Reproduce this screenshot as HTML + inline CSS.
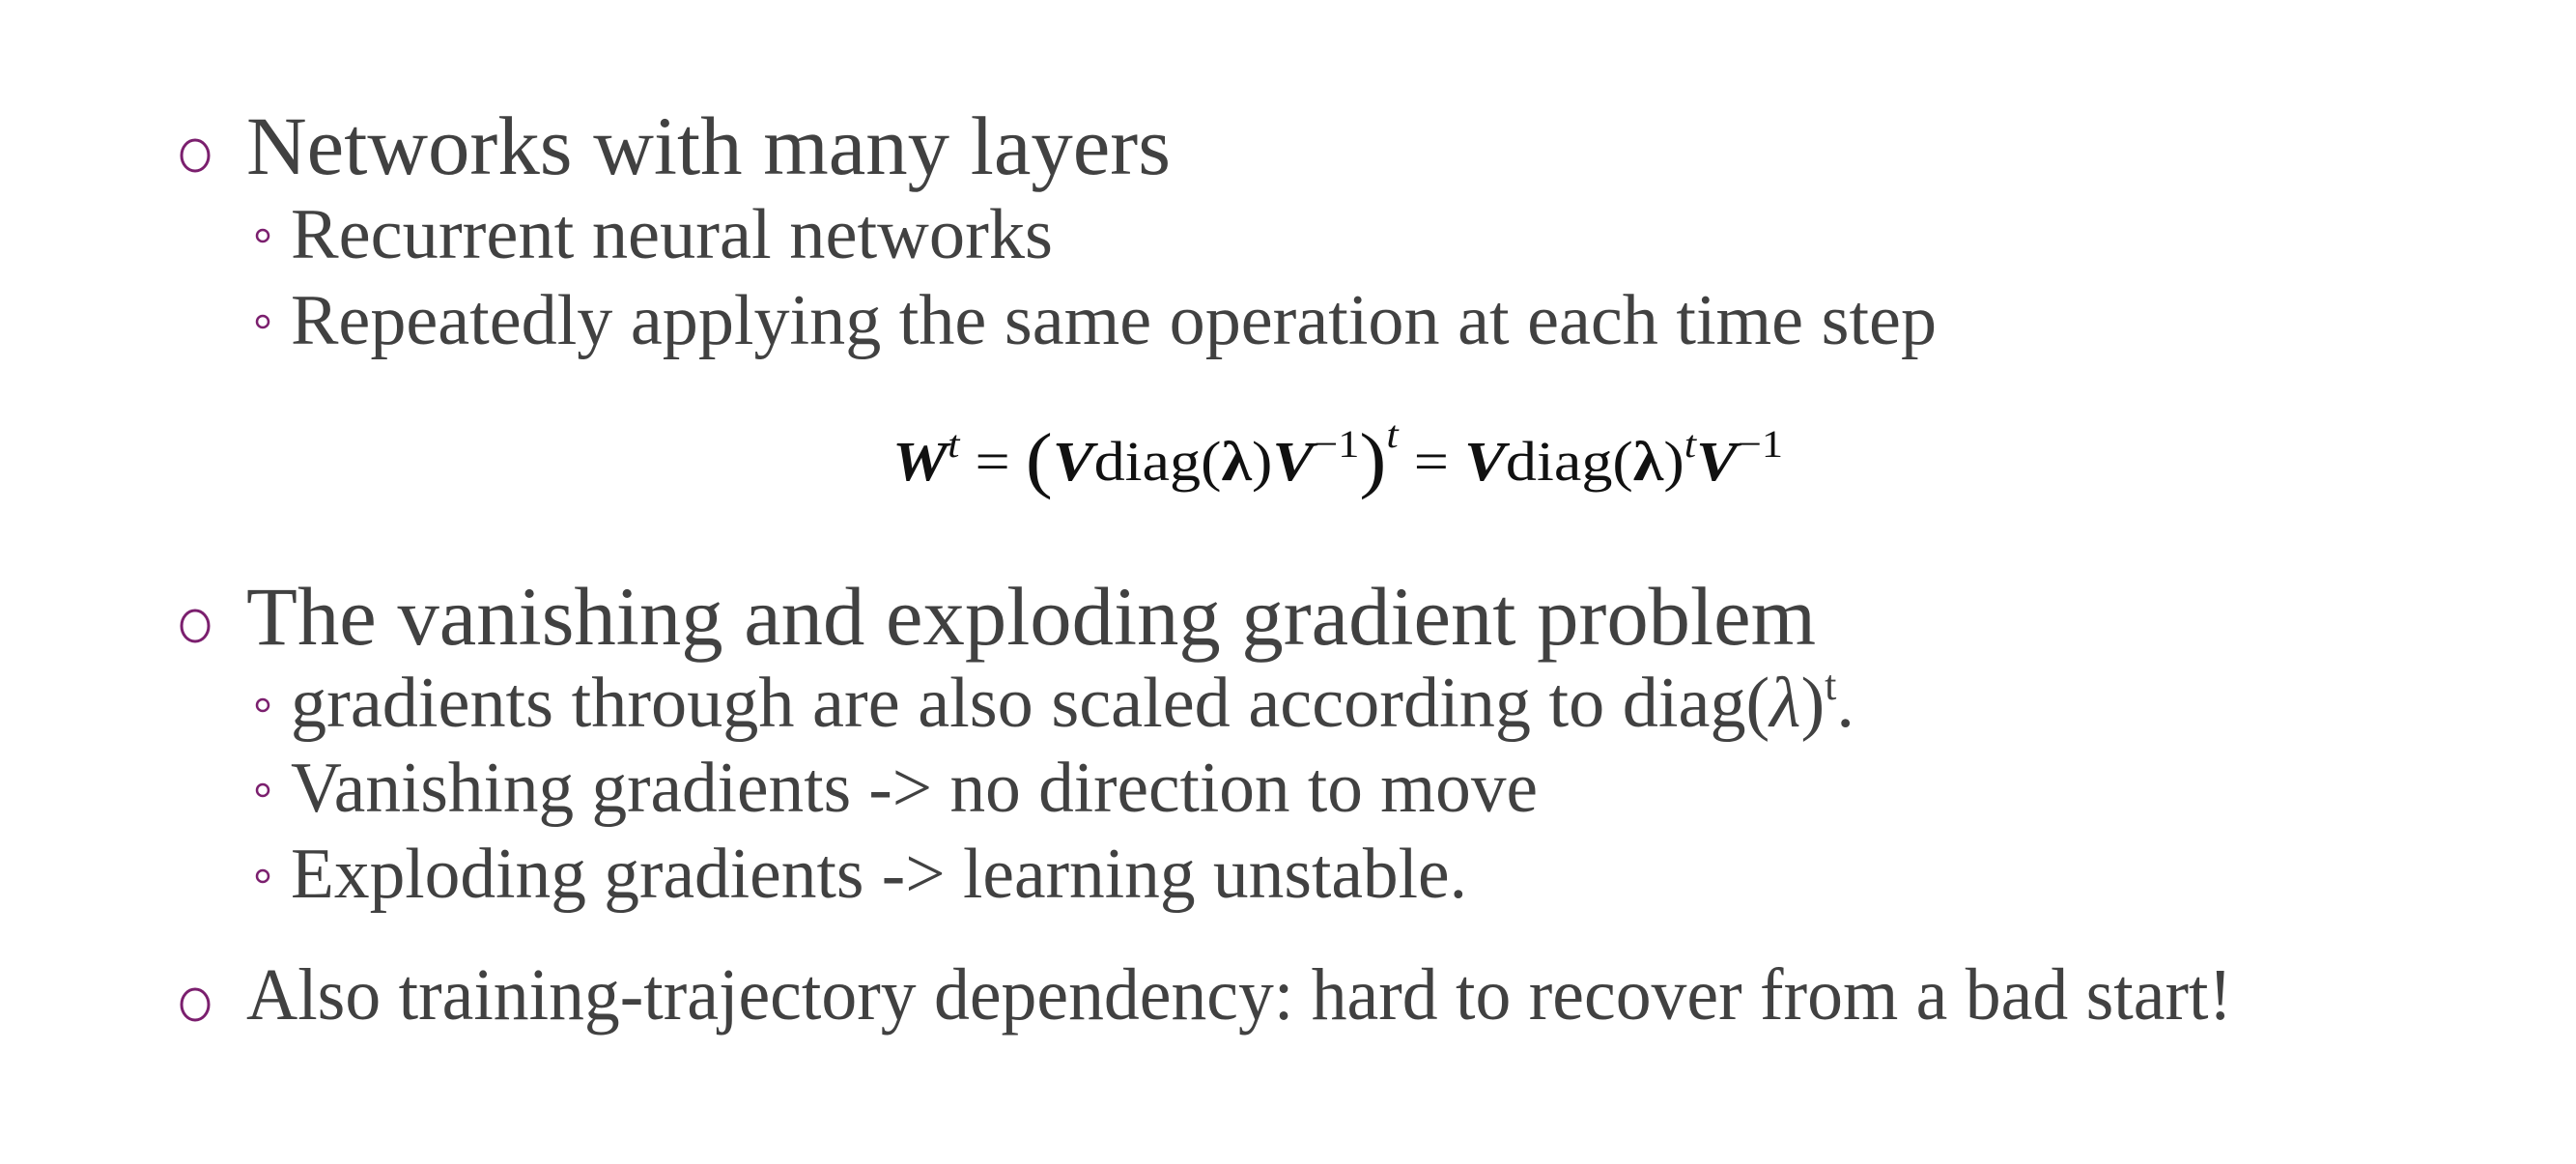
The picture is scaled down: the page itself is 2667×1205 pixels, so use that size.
<!DOCTYPE html>
<html><head><meta charset="utf-8"><style>
html,body{margin:0;padding:0;background:#fff;}
svg{display:block;}
text{font-family:"Liberation Serif",serif;fill:#414141;}
</style></head><body>
<svg width="2667" height="1205" viewBox="0 0 2667 1205" xmlns="http://www.w3.org/2000/svg">
<g fill="none" stroke="#7b1f6e">
<ellipse cx="202" cy="161" rx="14" ry="16" stroke-width="3"/>
<ellipse cx="202" cy="648" rx="14" ry="16" stroke-width="3"/>
<ellipse cx="202" cy="1040" rx="14" ry="16" stroke-width="3"/>
<circle cx="272" cy="244" r="6" stroke-width="2.5"/>
<circle cx="272" cy="333" r="6" stroke-width="2.5"/>
<circle cx="272" cy="730" r="6" stroke-width="2.5"/>
<circle cx="272" cy="818" r="6" stroke-width="2.5"/>
<circle cx="272" cy="907" r="6" stroke-width="2.5"/>
</g>
<text x="255" y="180" font-size="86" textLength="957" lengthAdjust="spacingAndGlyphs">Networks with many layers</text>
<text x="301" y="267" font-size="74" textLength="789" lengthAdjust="spacingAndGlyphs">Recurrent neural networks</text>
<text x="301" y="356" font-size="74" textLength="1704" lengthAdjust="spacingAndGlyphs">Repeatedly applying the same operation at each time step</text>
<text x="924" y="497" font-size="58" textLength="922" lengthAdjust="spacingAndGlyphs" style="fill:#111"><tspan font-weight="bold" font-style="italic">W</tspan><tspan font-style="italic" font-size="40" dy="-24">t</tspan><tspan dy="24"> = </tspan><tspan font-size="76" dy="4">(</tspan><tspan dy="-4" font-weight="bold" font-style="italic">V</tspan><tspan>diag(</tspan><tspan font-weight="bold">λ</tspan><tspan>)</tspan><tspan font-weight="bold" font-style="italic">V</tspan><tspan font-size="40" dy="-24">−1</tspan><tspan font-size="76" dy="28">)</tspan><tspan font-style="italic" font-size="40" dy="-38">t</tspan><tspan dy="34"> = </tspan><tspan font-weight="bold" font-style="italic">V</tspan><tspan>diag(</tspan><tspan font-weight="bold">λ</tspan><tspan>)</tspan><tspan font-style="italic" font-size="40" dy="-24">t</tspan><tspan dy="24" font-weight="bold" font-style="italic">V</tspan><tspan font-size="40" dy="-24">−1</tspan></text>
<text x="255" y="667" font-size="86" textLength="1625" lengthAdjust="spacingAndGlyphs">The vanishing and exploding gradient problem</text>
<text x="301" y="752" font-size="74" textLength="1619" lengthAdjust="spacingAndGlyphs">gradients through are also scaled according to diag(<tspan font-style="italic">λ</tspan>)<tspan font-size="44" dy="-28">t</tspan><tspan dy="28">.</tspan></text>
<text x="301" y="840" font-size="74" textLength="1291" lengthAdjust="spacingAndGlyphs">Vanishing gradients -&gt; no direction to move</text>
<text x="301" y="929" font-size="74" textLength="1218" lengthAdjust="spacingAndGlyphs">Exploding gradients -&gt; learning unstable.</text>
<text x="255" y="1055" font-size="76" textLength="2056" lengthAdjust="spacingAndGlyphs">Also training-trajectory dependency: hard to recover from a bad start!</text>
</svg>
</body></html>
